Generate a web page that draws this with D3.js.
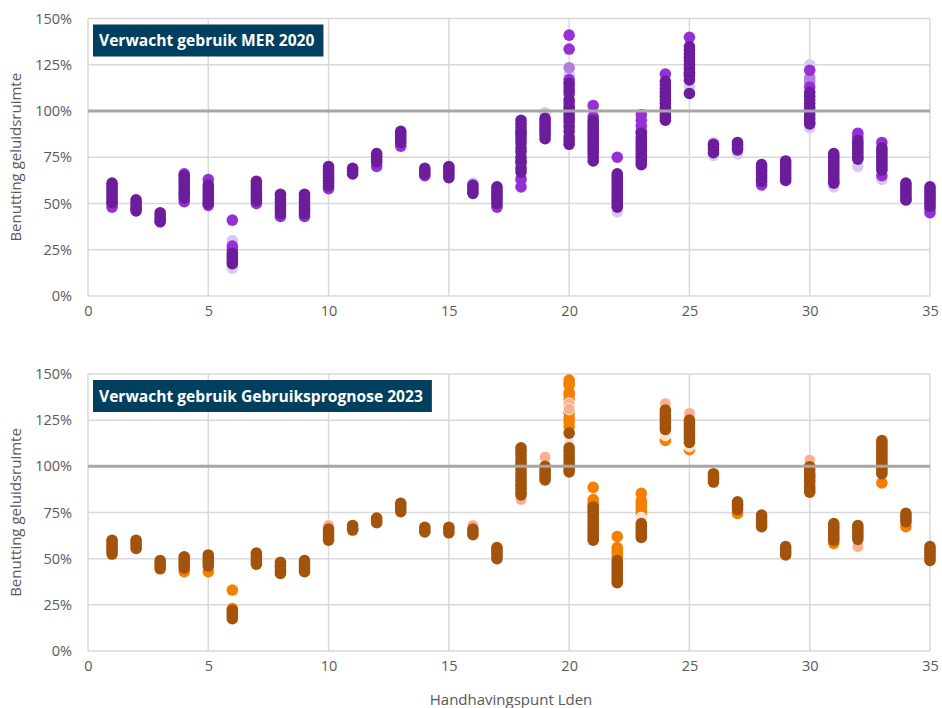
<!DOCTYPE html>
<html lang="nl">
<head>
<meta charset="utf-8">
<script src="https://cdn.jsdelivr.net/npm/d3@7"></script>
<style>
  html, body { margin: 0; padding: 0; background: #ffffff; }
  svg { display: block; font-family: "Open Sans", "Noto Sans", sans-serif; }
</style>
</head>
<body>
<svg id="chart" width="942" height="708"></svg>
<script>
// Handhavingspunten 1 t/m 35
const handhavingspunten = d3.range(1, 36);
const yTicks = [0, 25, 50, 75, 100, 125, 150];
const xTicks = [0, 5, 10, 15, 20, 25, 30, 35];
const grenswaarde = 100;

// Verwacht gebruik MER 2020 — benutting (%) per handhavingspunt, per tint
const merDonker = [
  [61,59.5,58,56.5,55,53.5,52,50.5],[52,50.5,49,47.5,46],[45,43.5,42,40.5],[65,63.5,62,60.5,59,57.5,56,54.5,53],[60,58.5,57,55.5,54,52.5,51,50],
  [23,21.5,20,18.5,17.5],[62,60.5,59,57.5,56,54.5,53,51.5],[55,53.5,52,50.5,49,47.5,46,44.5],[55,53.5,52,50.5,49,47.5,46,44.5],[70,68.5,67,65.5,64,62.5,61,59.5],
  [69,67.5,66],[77,75.5,74,72.5],[89,87.5,86,84.5,83],[69,67.5,66],[70,68.5,67,65.5,64],
  [60,58.5,57,55.5],[59,57.5,56,54.5,53,51.5,50],[95,93,91,89,87,85,83,80,78,75,73,72,69,67],[96,94.5,93,91.5,90,88.5,87,85],[115,111,106,102,100,98,96,94,91.5,89,86,84,82],
  [95,93.5,92,90.5,89,87.5,86,84.5,83,81.5,80,78.5,77,75,73],[66,64.5,63,61.5,60,58.5,57,55.5,54,52.5,51,49.5,48],[88,86,84,82.5,81,79.5,78,76.5,75,73.5,72,71],[116,114,112,110,108,106,104,102,100.5,98,96.5,95],[134.8,133,131,129,127,125,123,121,119,116.8,109.5],
  [82,80.5,79,77.5],[83,81.5,80,79],[71,69.5,68,66.5,65,63.5,62],[73,71.5,70,68.5,67,65.5,64,62.5],[110,108,106,104,102,100,98,96,94,93],
  [77,75.5,74,72.5,71,69.5,68,66.5,65,63.5,62,61],[84,82.5,81,79.5,78,76.5,75,74],[80,78.5,77,75.5,74,72.5,71,69.5,68],[61,59.5,58,56.5,55,53.5,52],[59,57.5,56,54.5,53,51.5,50,48.5]
];
const merPaars = [
  [50,48],[47],[40],[66,51],[63,49],
  [41,27,25],[50],[43],[43],[58],
  [],[70],[81],[65],[],
  [],[48],[88,63,59],[],[141,133.5,117,113,109,104],
  [103,97],[75],[98,95,92,89],[120],[139.8,120],
  [],[],[60],[],[122,113],
  [],[88,86],[83,65],[52],[47,45]
];
const merLichtpaars = [
  [],[],[],[],[],
  [],[],[],[],[],
  [],[],[],[],[],
  [],[],[],[],[123.4],
  [],[],[],[],[],
  [],[],[],[],[118,116],
  [],[],[],[],[]
];
const merLicht = [
  [],[],[],[],[],
  [30,15],[],[],[],[],
  [],[],[],[],[],
  [61],[],[82,70,64],[99],[119.5,102],
  [],[45.5],[],[],[113],
  [83,76],[76.8],[],[],[125,91],
  [59],[70],[63],[],[]
];

// Verwacht gebruik Gebruiksprognose 2023 — benutting (%) per handhavingspunt, per tint
const gpDonker = [
  [60,58.5,57,55.5,54,52.5],[60,58.5,57,55.5],[49,47.5,46,44.5],[51,49.5,48,46.5,45],[52,50.5,49,47.5,46],
  [22,20.5,19,17.5],[53,51.5,50,48.5,47],[48,46.5,45,43.5,42],[49,47.5,46,44.5,43],[66,64.5,63,61.5,60],
  [68,66.5,65.5],[72,70.5,69.5],[80,78.5,77,75.5],[67,65.5,64.5],[67,65.5,64],
  [66,64.5,63],[56,54.5,53,51.5,50],[110,108,106,104,102,100,98,96,94,92,90,88,86,84.5],[100,98.5,97,95.5,94,92.6],[118,110,108,106,104,102,100,98.5,97],
  [78,76.5,75,73.5,72,70.5,69,67.5,66,64.5,63,61.5,60],[49,47.5,46,44.5,43,41.5,40,38.5,37],[69,67.5,66,64.5,63,61.5],[130.5,129,127.5,126,124.5,123,121.5,120],[125,123.5,122,120.5,119,117.5,116,114.5,113],
  [96,94.5,93,91.5],[80.8,79.5,78,76.5],[73.6,72,70.5,69,67.3],[56.5,55,53.5,52],[99.8,98,96,94,92.5,91,89,87.5,86],
  [69,67.5,66,64.5,63,61.5,60],[68,66.5,65,63.5,62,60.5],[114,112.5,111,109.5,108,106.5,105,103.5,102,100.5,99,97.5,96],[74.5,73,71.5,70],[56.5,55,53.5,52,50.5,49]
];
const gpOranje = [
  [],[],[],[43],[43],
  [33,23],[],[],[],[],
  [],[],[],[],[],
  [],[],[101,90],[],[146.7,145,144,140,138.6,136,133,130.5,129,126,124,121.5],
  [88.6,82,80.5,79],[62,56,54.7,53,51],[85.4,81.5,80,78.5,77,75.5,74,72.5],[114],[109],
  [],[74.5],[],[],[100,95],
  [58.3],[],[91],[67.3],[]
];
const gpZalm = [
  [],[],[],[],[],
  [],[],[],[],[68],
  [],[],[],[],[],
  [68],[],[82],[105],[134,131],
  [],[],[],[134],[128.7],
  [],[],[],[],[103.4],
  [],[56.5],[],[],[]
];
const gpLicht = [
  [],[],[],[],[],
  [],[],[],[],[],
  [],[],[],[],[],
  [],[],[],[96],[112.6],
  [76],[],[72],[117],[111],
  [],[],[],[],[],
  [],[],[],[],[]
];

const panels = [
  {
    titel: "Verwacht gebruik MER 2020",
    top: 18.5, bottom: 296,
    series: [
      { waarden: merLicht, kleur: "#dac8ef", rand: false },
      { waarden: merLichtpaars, kleur: "#b37ee0", rand: false },
      { waarden: merPaars, kleur: "#9630d6", rand: false },
      { waarden: merDonker, kleur: "#6c1d9c", rand: false }
    ]
  },
  {
    titel: "Verwacht gebruik Gebruiksprognose 2023",
    top: 374, bottom: 651,
    series: [
      { waarden: gpOranje, kleur: "#f57f00", rand: false },
      { waarden: gpLicht, kleur: "#fde0d2", rand: true },
      { waarden: gpZalm, kleur: "#fcae90", rand: true },
      { waarden: gpDonker, kleur: "#a3530b", rand: false }
    ]
  }
];

const svg = d3.select("#chart");
const left = 88, right = 930;
const x = d3.scaleLinear().domain([0, 35]).range([left, right]);
const tekstKleur = "#595959";

panels.forEach(p => {
  const y = d3.scaleLinear().domain([0, 150]).range([p.bottom, p.top]);
  const g = svg.append("g");

  // rasterlijnen
  g.append("g").selectAll("line").data(yTicks).join("line")
    .attr("x1", left).attr("x2", right)
    .attr("y1", d => y(d)).attr("y2", d => y(d))
    .attr("stroke", "#d9d9d9").attr("stroke-width", 1.5);
  g.append("g").selectAll("line").data(xTicks).join("line")
    .attr("x1", d => x(d)).attr("x2", d => x(d))
    .attr("y1", p.top).attr("y2", p.bottom)
    .attr("stroke", "#d9d9d9").attr("stroke-width", 1.5);

  // y-as
  const yAxis = d3.axisLeft(y).tickValues(yTicks).tickFormat(d => d + "%").tickSize(0).tickPadding(16);
  const ya = g.append("g").attr("transform", `translate(${left},0)`).call(yAxis);
  ya.select(".domain").remove();
  ya.selectAll("text").attr("fill", tekstKleur).attr("font-size", 14.5)
    .attr("font-family", "'Open Sans', sans-serif");

  // x-as
  const xAxis = d3.axisBottom(x).tickValues(xTicks).tickSize(0).tickPadding(10);
  const xa = g.append("g").attr("transform", `translate(0,${p.bottom})`).call(xAxis);
  xa.select(".domain").remove();
  xa.selectAll("text").attr("fill", tekstKleur).attr("font-size", 14.5)
    .attr("font-family", "'Open Sans', sans-serif");

  // y-astitel
  g.append("text")
    .attr("transform", `translate(21,${(p.top + p.bottom) / 2}) rotate(-90)`)
    .attr("text-anchor", "middle")
    .attr("fill", tekstKleur).attr("font-size", 15)
    .text("Benutting geluidsruimte");

  // punten
  p.series.forEach(s => {
    const pts = [];
    s.waarden.forEach((vals, i) => vals.forEach(v => pts.push({ punt: handhavingspunten[i], v })));
    g.append("g").selectAll("circle").data(pts).join("circle")
      .attr("cx", d => x(d.punt))
      .attr("cy", d => y(d.v))
      .attr("r", 5.8)
      .attr("fill", s.kleur)
      .attr("stroke", s.rand ? "#ffffff" : "none")
      .attr("stroke-width", s.rand ? 0.8 : 0);
  });

  // 100%-lijn
  g.append("line")
    .attr("x1", left).attr("x2", right)
    .attr("y1", y(grenswaarde)).attr("y2", y(grenswaarde))
    .attr("stroke", "#a6a6a6").attr("stroke-width", 3);

  // titelvak
  const tg = g.append("g").attr("transform", `translate(93,${p.top + 6})`);
  const t = tg.append("text")
    .attr("x", 6).attr("y", 21.5)
    .attr("fill", "#ffffff").attr("font-size", 15.6).attr("font-weight", 700)
    .text(p.titel);
  const w = t.node().getComputedTextLength();
  tg.insert("rect", "text")
    .attr("width", w + 15).attr("height", 32)
    .attr("fill", "#00405e");
});

// x-astitel
svg.append("text")
  .attr("x", 511).attr("y", 705)
  .attr("text-anchor", "middle")
  .attr("fill", tekstKleur).attr("font-size", 15)
  .text("Handhavingspunt Lden");
</script>
</body>
</html>
